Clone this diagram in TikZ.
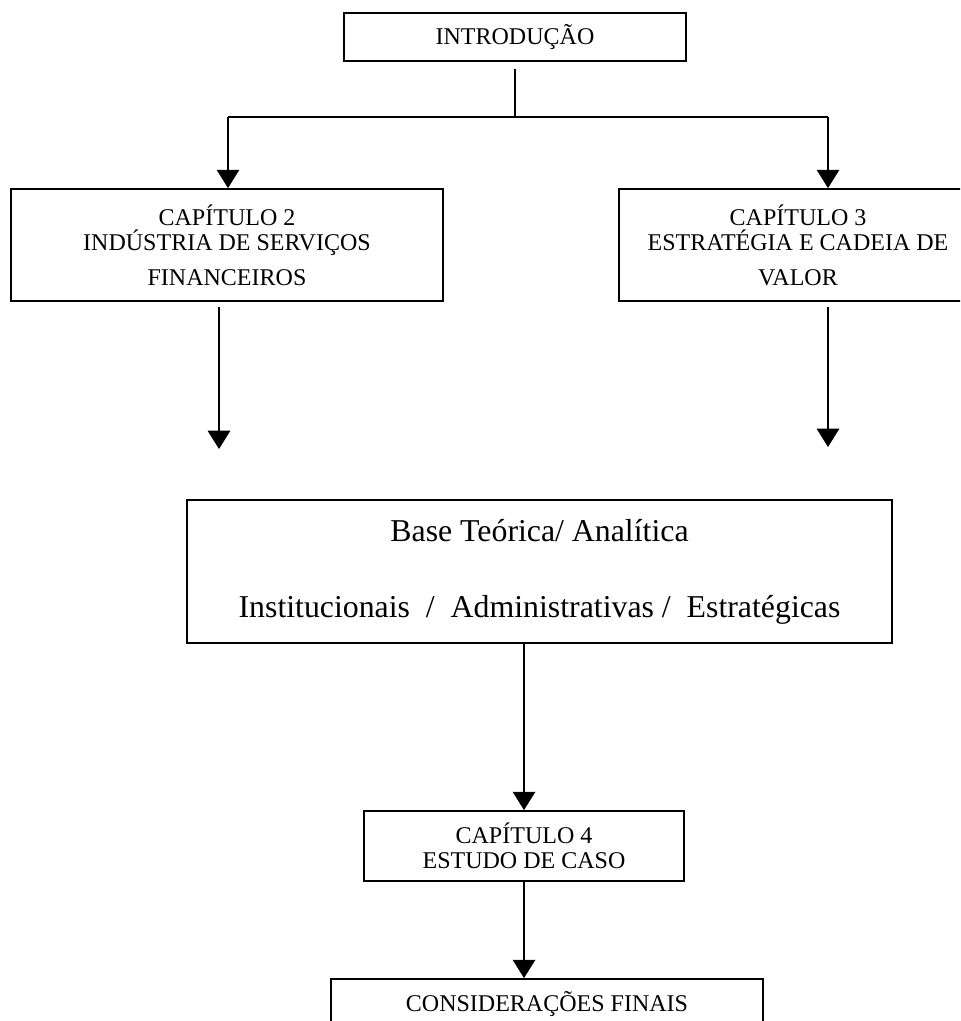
\documentclass[tikz,border=0pt]{standalone}
\usepackage{fontspec}
\setmainfont{Liberation Serif}
\usetikzlibrary{arrows.meta, positioning, calc}
\newdimen\pxu
\pxu=0.018cm
\tikzset{
  every picture/.style={line width=0.9pt},
  box/.style={draw, rectangle, align=center, inner sep=0pt, font=\fontsize{12.3}{12.8}\selectfont},
  bigbox/.style={box, font=\fontsize{16.3}{38.9}\selectfont},
  arrow/.style={-{Triangle[length=9.4pt, width=11.5pt]}},
}

\begin{document}
\begin{tikzpicture}[x=1\pxu, y=-1\pxu]
  \clip (0,0) rectangle (960,1021);
  % top box and the split below it
  \node[box, minimum width=342\pxu, minimum height=48\pxu] (intro) at (515,37) {INTRODUÇÃO};
  \coordinate (jL) at (228,117);
  \coordinate (jR) at (828,117);
  \draw[shorten <=7\pxu] (intro.south) -- (intro.south |- jL);
  \draw (jL) -- (jR);
  % chapters 2 and 3
  \node[box, minimum width=432\pxu, minimum height=112\pxu] (cap2) at (227,245) {CAPÍTULO 2\\INDÚSTRIA DE SERVIÇOS\\[5.1pt]FINANCEIROS};
  \node[box, minimum width=358\pxu, minimum height=112\pxu] (cap3) at (798,245) {CAPÍTULO 3\\ESTRATÉGIA E CADEIA DE\\[5.1pt]VALOR};
  \draw[arrow] (jL) -- (jL |- cap2.north);
  \draw[arrow] (jR) -- (jR |- cap3.north);
  \coordinate (endL) at (219,449);
  \coordinate (endR) at (828,447);
  \draw[arrow, shorten <=5\pxu] (endL |- cap2.south) -- (endL);
  \draw[arrow, shorten <=5\pxu] (endR |- cap3.south) -- (endR);
  % theoretical base
  \node[bigbox, minimum width=705\pxu, minimum height=143\pxu] (base) at (539.5,571.5) {Base Teórica/ Analítica\\Institucionais \ / \ Administrativas / \ Estratégicas};
  % chapter 4 and closing
  \node[box, minimum width=320\pxu, minimum height=70\pxu] (cap4) at (524,846) {CAPÍTULO 4\\ESTUDO DE CASO};
  \node[box, minimum width=432\pxu, minimum height=50\pxu] (cons) at (547,1004) {CONSIDERAÇÕES FINAIS};
  \draw[arrow] (cap4.north |- base.south) -- (cap4.north);
  \draw[arrow] (cap4.south) -- (cap4.south |- cons.north);
\end{tikzpicture}
\end{document}
